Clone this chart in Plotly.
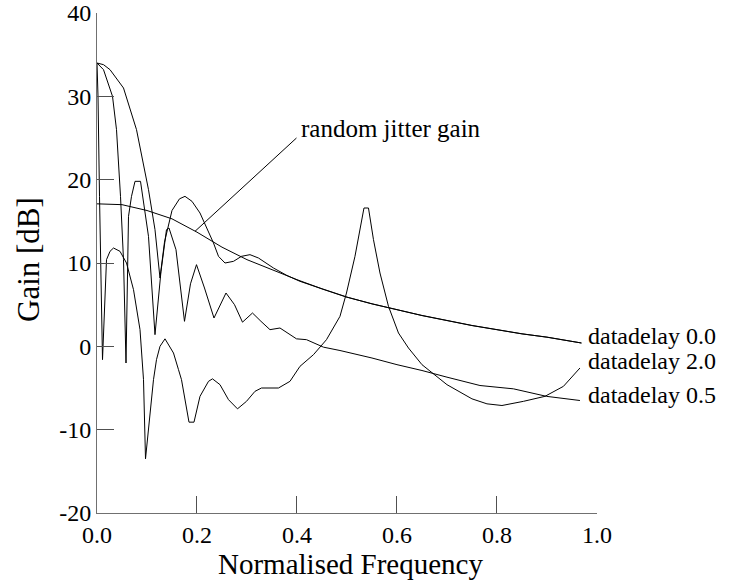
import plotly.graph_objects as go

# ---- data ----
freq_jitter = [0, 0.05, 0.1, 0.15, 0.2, 0.25, 0.3, 0.35, 0.4, 0.45, 0.5, 0.55, 0.6, 0.65,
               0.7, 0.75, 0.8, 0.85, 0.9, 0.95, 0.969]
gain_jitter = [17.1, 17.0, 16.3, 15.3, 13.7, 11.9, 10.4, 9.2, 8.0, 6.9, 5.9, 5.1, 4.4, 3.7,
               3.1, 2.5, 2.0, 1.5, 1.1, 0.6, 0.4]

freq_d00 = [0, 0.013, 0.026, 0.053, 0.079, 0.103, 0.116, 0.122, 0.126, 0.135, 0.15, 0.165,
            0.176, 0.19, 0.206, 0.233, 0.243, 0.256, 0.273, 0.289, 0.306, 0.323, 0.353, 0.38,
            0.406, 0.45, 0.5, 0.55, 0.6, 0.65, 0.7, 0.75, 0.8, 0.85, 0.9, 0.95, 0.969]
gain_d00 = [34.0, 33.8, 33.2, 31.0, 26.0, 18.8, 14.0, 10.4, 8.2, 12.5, 16.3, 17.7,
            18.0, 17.4, 16.0, 12.4, 10.8, 10.0, 10.2, 10.8, 11.0, 10.6, 9.4, 8.5,
            7.8, 6.9, 5.9, 5.1, 4.4, 3.7, 3.1, 2.5, 2.0, 1.5, 1.1, 0.6, 0.4]

freq_d05 = [0, 0.013, 0.031, 0.039, 0.047, 0.053, 0.058, 0.063, 0.069, 0.076, 0.087, 0.093,
            0.103, 0.116, 0.128, 0.139, 0.144, 0.158, 0.175, 0.187, 0.199, 0.215, 0.234,
            0.258, 0.275, 0.291, 0.311, 0.328, 0.346, 0.366, 0.399, 0.419, 0.453, 0.486,
            0.55, 0.6, 0.65, 0.7, 0.766, 0.833, 0.899, 0.966]
gain_d05 = [34.0, 33.2, 30.0, 26.0, 18.0, 10.4, -2.0, 15.6, 18.0, 19.8, 19.8, 17.2,
            13.2, 1.4, 9.0, 14.0, 14.2, 11.6, 3.0, 7.5, 9.8, 7.0, 3.4,
            6.4, 5.0, 2.9, 4.0, 3.0, 2.0, 2.2, 0.9, 0.8, -0.1, -0.5,
            -1.4, -2.2, -2.9, -3.7, -4.7, -5.1, -6.0, -6.5]

freq_d20 = [0, 0.002, 0.005, 0.008, 0.011, 0.019, 0.026, 0.033, 0.046, 0.059, 0.073, 0.086,
            0.093, 0.097, 0.113, 0.119, 0.126, 0.136, 0.153, 0.163, 0.169, 0.184, 0.194,
            0.206, 0.223, 0.231, 0.246, 0.263, 0.281, 0.299, 0.316, 0.329, 0.363, 0.386,
            0.406, 0.433, 0.459, 0.486, 0.499, 0.516, 0.527, 0.534, 0.543, 0.553, 0.566,
            0.583, 0.603, 0.623, 0.65, 0.7, 0.75, 0.78, 0.81, 0.853, 0.896, 0.933, 0.966]
gain_d20 = [34.0, 30.0, 18.0, 8.0, -1.6, 10.4, 11.4, 11.8, 11.4, 10.0, 6.8, 2.0,
            -4.0, -13.5, -4.0, -1.6, 0.0, 0.9, -0.8, -2.8, -4.0, -9.1, -9.1,
            -6.0, -4.2, -3.9, -4.6, -6.4, -7.5, -6.6, -5.4, -5.0, -5.0, -4.2,
            -2.4, -1.0, 0.8, 3.6, 6.4, 10.8, 14.4, 16.6, 16.6, 12.8, 8.8,
            4.8, 1.6, -0.2, -2.2, -4.6, -6.3, -6.9, -7.1, -6.6, -6.0, -4.8, -2.6]

label_texts = ["datadelay 0.0", "datadelay 2.0", "datadelay 0.5"]
label_y = [1.3, -1.7, -5.8]
label_x = 0.978

jitter_text = "random jitter gain"
jitter_leader_x = [0.196, 0.399]
jitter_leader_y = [13.8, 25.0]
jitter_text_xy = (0.405, 26.2)

x_ticks = [0.0, 0.2, 0.4, 0.6, 0.8, 1.0]
x_ticklabels = ["0.0", "0.2", "0.4", "0.6", "0.8", "1.0"]
y_ticks = [-20, -10, 0, 10, 20, 30, 40]
y_ticklabels = ["-20", "-10", "0", "10", "20", "30", "40"]

x_title = "Normalised Frequency"
y_title = "Gain [dB]"

FONT = "Liberation Serif"
line_style = dict(color="black", width=1)

fig = go.Figure()
for xs, ys in [(freq_jitter, gain_jitter), (freq_d00, gain_d00),
               (freq_d05, gain_d05), (freq_d20, gain_d20),
               (jitter_leader_x, jitter_leader_y)]:
    fig.add_trace(go.Scatter(x=xs, y=ys, mode="lines", line=line_style,
                             showlegend=False, hoverinfo="skip", cliponaxis=False))

for t, yv in zip(label_texts, label_y):
    fig.add_annotation(x=label_x, y=yv, text=t, showarrow=False, xanchor="left",
                       yanchor="middle", font=dict(family=FONT, size=24, color="black"))
fig.add_annotation(x=jitter_text_xy[0], y=jitter_text_xy[1], text=jitter_text,
                   showarrow=False, xanchor="left", yanchor="middle",
                   font=dict(family=FONT, size=25, color="black"))

# axis titles
fig.add_annotation(xref="paper", yref="paper", x=0.506, y=-0.101, text=x_title,
                   showarrow=False, xanchor="center", yanchor="middle",
                   font=dict(family=FONT, size=29, color="black"))
fig.add_annotation(xref="paper", yref="paper", x=-0.138, y=0.506, text=y_title,
                   showarrow=False, xanchor="center", yanchor="middle", textangle=-90,
                   font=dict(family=FONT, size=31, color="black"))

axis_common = dict(showgrid=False, zeroline=False, showline=True, linecolor="#707070",
                   linewidth=1, ticks="inside", ticklen=17, tickcolor="#505050",
                   tickwidth=1, mirror=False, ticklabelstandoff=0,
                   ticklabeloverflow="allow", automargin=False,
                   tickfont=dict(family=FONT, size=24, color="black"))

fig.update_layout(
    width=729, height=581,
    margin=dict(l=97, r=132, t=13, b=68, autoexpand=False),
    paper_bgcolor="white", plot_bgcolor="white",
    xaxis=dict(range=[0, 1.0001], tickvals=x_ticks, ticktext=x_ticklabels, **axis_common),
    yaxis=dict(range=[-20, 40.001], tickvals=y_ticks, ticktext=y_ticklabels, **axis_common),
)

fig.write_html("out.html")
